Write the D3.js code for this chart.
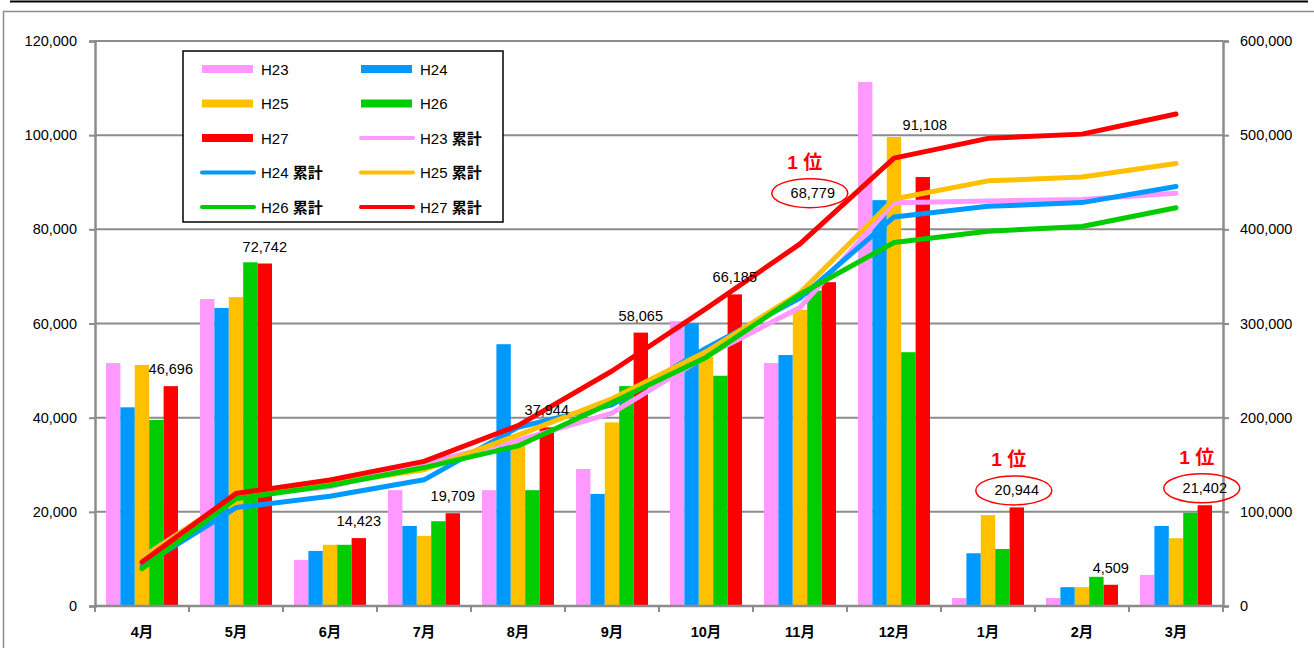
<!DOCTYPE html>
<html>
<head>
<meta charset="utf-8">
<script src="https://cdn.jsdelivr.net/npm/d3@7/dist/d3.min.js"></script>
<style>
  body { margin: 0; background: #fff; }
  svg text { font-family: "Liberation Sans", Arial, "Noto Sans CJK JP", sans-serif; fill: #000; }
</style>
</head>
<body>
<div></div>
<script>
'use strict';

// Categories and series
var months = ["4月", "5月", "6月", "7月", "8月", "9月", "10月", "11月", "12月", "1月", "2月", "3月"];
var seriesNames = ["H23", "H24", "H25", "H26", "H27"];
var seriesColors = ["#ff99ff", "#0099ff", "#ffc000", "#00cc00", "#ff0000"];

// Monthly values (left axis)
var h23 = [51600, 65200, 9800, 24600, 24600, 29100, 60500, 51600, 111300, 1700, 1700, 6600];
var h24 = [42200, 63300, 11700, 17000, 55600, 23800, 60100, 53300, 86200, 11200, 4000, 17000];
var h25 = [51200, 65600, 13000, 14900, 35000, 39000, 53000, 62900, 99600, 19300, 4000, 14400];
var h26 = [39500, 73000, 13000, 18000, 24600, 46700, 48900, 67000, 53900, 12100, 6200, 19800];
var h27 = [46696, 72742, 14423, 19709, 37944, 58065, 66185, 68779, 91108, 20944, 4509, 21402];

// Cumulative values (right axis)
var h23Total = [51600, 116800, 126600, 151200, 175800, 204900, 265400, 317000, 428300, 430000, 431700, 438300];
var h24Total = [42200, 104500, 116500, 134000, 189800, 213600, 273700, 327000, 413200, 424400, 428400, 445400];
var h25Total = [51200, 116800, 129800, 144700, 181500, 220000, 270000, 332600, 432200, 451500, 455500, 469900];
var h26Total = [39500, 114000, 128000, 147000, 170000, 216000, 264000, 331000, 386000, 398000, 403000, 423000];
var h27Total = [46696, 119438, 133861, 153570, 191514, 249579, 315764, 384543, 475651, 496595, 501104, 522506];

// Left and right axis ticks
var leftTicks = [0, 20000, 40000, 60000, 80000, 100000, 120000];
var rightTicks = [0, 100000, 200000, 300000, 400000, 500000, 600000];

// Months where H27 ranked first
var rankMonths = ["11月", "1月", "3月"];
var rankText = "1 位";

var barData = [h23, h24, h25, h26, h27];
var totalData = [h23Total, h24Total, h25Total, h26Total, h27Total];

// Layout
var svgWidth = 1314;
var svgHeight = 648;
var plot = {left: 95, right: 1223, top: 41, bottom: 606};
var labelShift = {"11月": [-16, -72], "12月": [2, -35]};

var svg = d3.select("body").select("div")
  .append("svg")
    .attr("width", svgWidth)
    .attr("height", svgHeight)
    .style("display", "block");

// Frame
svg.append("line")
    .attr("x1", 10).attr("x2", 1308)
    .attr("y1", 1.5).attr("y2", 1.5)
    .attr("stroke", "#000")
    .attr("stroke-width", 2);

svg.append("rect")
    .attr("x", 3.5).attr("y", 11.5)
    .attr("width", 1320).attr("height", 660)
    .attr("fill", "none")
    .attr("stroke", "#8c8c8c")
    .attr("stroke-width", 1.5);

// Scales
var xScale = d3.scaleBand()
    .domain(months)
    .range([plot.left, plot.right])
    .padding(0);

var xInner = d3.scaleBand()
    .domain(seriesNames)
    .range([11, xScale.bandwidth() - 11])
    .padding(0);

var yLeft = d3.scaleLinear()
    .domain([0, 120000])
    .range([plot.bottom, plot.top]);

var yRight = d3.scaleLinear()
    .domain([0, 600000])
    .range([plot.bottom, plot.top]);

var fmt = d3.format(",");

// Gridlines
svg.append("g")
  .selectAll("line")
  .data(leftTicks.slice(1))
  .enter().append("line")
    .attr("x1", plot.left)
    .attr("x2", plot.right)
    .attr("y1", function(d) { return yLeft(d); })
    .attr("y2", function(d) { return yLeft(d); })
    .attr("stroke", "#8c8c8c")
    .attr("stroke-width", 2);

// Left axis
var leftAxis = svg.append("g")
    .attr("transform", "translate(" + plot.left + ",0)")
    .call(d3.axisLeft(yLeft).tickValues(leftTicks).tickFormat(fmt).tickSize(6).tickPadding(12));

// Right axis
var rightAxis = svg.append("g")
    .attr("transform", "translate(" + plot.right + ",0)")
    .call(d3.axisRight(yRight).tickValues(rightTicks).tickFormat(fmt).tickSize(6).tickPadding(11));

[leftAxis, rightAxis].forEach(function(ax) {
  ax.select(".domain").attr("stroke", "#8c8c8c").attr("stroke-width", 2.5);
  ax.selectAll(".tick line").attr("stroke", "#8c8c8c").attr("stroke-width", 2);
  ax.selectAll(".tick text").attr("font-size", 14.5).attr("fill", "#000");
});

// Bars
var groups = svg.append("g")
  .selectAll("g")
  .data(barData)
  .enter().append("g")
    .attr("fill", function(d, i) { return seriesColors[i]; });

groups.each(function(series, si) {
  d3.select(this).selectAll("rect")
    .data(series)
    .enter().append("rect")
      .attr("x", function(d, i) { return xScale(months[i]) + xInner(seriesNames[si]); })
      .attr("y", function(d) { return yLeft(d); })
      .attr("width", xInner.bandwidth())
      .attr("height", function(d) { return plot.bottom - yLeft(d); });
});

// Bottom axis
var bottomAxis = svg.append("g")
    .attr("transform", "translate(0," + plot.bottom + ")");

bottomAxis.append("line")
    .attr("x1", plot.left).attr("x2", plot.right)
    .attr("stroke", "#8c8c8c")
    .attr("stroke-width", 2.5);

bottomAxis.selectAll("line.tick")
  .data(months.concat(["end"]))
  .enter().append("line")
    .attr("class", "tick")
    .attr("x1", function(d, i) { return plot.left + i * xScale.bandwidth(); })
    .attr("x2", function(d, i) { return plot.left + i * xScale.bandwidth(); })
    .attr("y1", 0).attr("y2", 6)
    .attr("stroke", "#8c8c8c")
    .attr("stroke-width", 2);

bottomAxis.selectAll("text")
  .data(months)
  .enter().append("text")
    .attr("x", function(d) { return xScale(d) + xScale.bandwidth() / 2; })
    .attr("y", 31)
    .attr("text-anchor", "middle")
    .attr("font-size", 14.5)
    .attr("font-weight", "bold")
    .text(function(d) { return d; });

// Cumulative lines
var totalLine = d3.line()
    .x(function(d, i) { return xScale(months[i]) + xScale.bandwidth() / 2; })
    .y(function(d) { return yRight(d); });

svg.append("g")
  .selectAll("path")
  .data(totalData)
  .enter().append("path")
    .attr("fill", "none")
    .attr("stroke", function(d, i) { return seriesColors[i]; })
    .attr("stroke-width", 5)
    .attr("stroke-linejoin", "round")
    .attr("stroke-linecap", "round")
    .attr("d", totalLine);

// H27 value labels
var labelX = function(m) {
  var s = labelShift[m] ? labelShift[m][0] : 0;
  return xScale(m) + xInner("H27") + xInner.bandwidth() / 2 + s;
};
var labelY = function(v, m) {
  var s = labelShift[m] ? labelShift[m][1] : 0;
  return yLeft(v) - 12 + s;
};

svg.append("g")
  .selectAll("text")
  .data(h27)
  .enter().append("text")
    .attr("x", function(d, i) { return labelX(months[i]); })
    .attr("y", function(d, i) { return labelY(d, months[i]); })
    .attr("text-anchor", "middle")
    .attr("font-size", 14.5)
    .text(function(d) { return fmt(d); });

// Rank annotations
var rank = svg.append("g")
  .selectAll("g")
  .data(rankMonths)
  .enter().append("g");

rank.append("ellipse")
    .attr("cx", function(m) { return labelX(m) - 3; })
    .attr("cy", function(m) { return labelY(h27[months.indexOf(m)], m) - 5; })
    .attr("rx", 38)
    .attr("ry", 14.5)
    .attr("fill", "none")
    .attr("stroke", "#ff0000")
    .attr("stroke-width", 1.5);

rank.append("text")
    .attr("x", function(m) { return labelX(m) - 8; })
    .attr("y", function(m) { return labelY(h27[months.indexOf(m)], m) - 29; })
    .attr("text-anchor", "middle")
    .attr("font-size", 19)
    .attr("font-weight", "bold")
    .style("fill", "#ff0000")
    .text(rankText);

// Legend
var legendItems = [];
seriesNames.forEach(function(n, i) { legendItems.push({name: n, bold: "", color: seriesColors[i], type: "bar"}); });
seriesNames.forEach(function(n, i) { legendItems.push({name: n + " ", bold: "累計", color: seriesColors[i], type: "line"}); });

var legend = svg.append("g");

legend.append("rect")
    .attr("x", 183).attr("y", 51)
    .attr("width", 320).attr("height", 171)
    .attr("fill", "#fff")
    .attr("stroke", "#000")
    .attr("stroke-width", 1.5);

var entry = legend.selectAll("g")
  .data(legendItems)
  .enter().append("g")
    .attr("transform", function(d, i) {
      return "translate(" + (202 + (i % 2) * 159) + "," + (69 + Math.floor(i / 2) * 34.5) + ")";
    });

entry.filter(function(d) { return d.type === "bar"; })
  .append("rect")
    .attr("x", 0).attr("y", -4)
    .attr("width", 51).attr("height", 8)
    .attr("fill", function(d) { return d.color; });

entry.filter(function(d) { return d.type === "line"; })
  .append("line")
    .attr("x1", 0).attr("x2", 52)
    .attr("stroke", function(d) { return d.color; })
    .attr("stroke-width", 4)
    .attr("stroke-linecap", "round");

var entryText = entry.append("text")
    .attr("x", 59)
    .attr("y", 5.5)
    .attr("font-size", 15);

entryText.append("tspan").text(function(d) { return d.name; });
entryText.append("tspan")
    .attr("font-weight", "bold")
    .text(function(d) { return d.bold; });
</script>
</body>
</html>
